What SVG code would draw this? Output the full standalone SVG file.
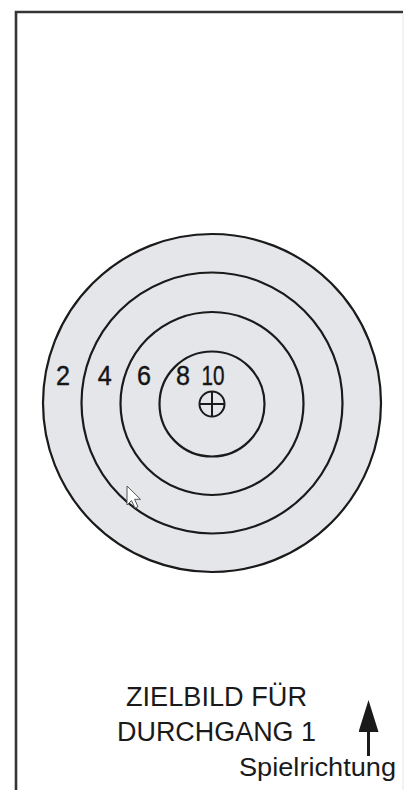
<svg xmlns="http://www.w3.org/2000/svg" width="405" height="790" viewBox="0 0 405 790">
  <style>
    .ring { fill: #e4e6e9; stroke: #1a1a1a; stroke-width: 2.2; }
    .num { font-family: "Liberation Sans", Arial, sans-serif; font-size: 28px; fill: #151515; text-anchor: middle; stroke: #151515; stroke-width: 0.4; }
    .cap { font-family: "Liberation Sans", Arial, sans-serif; font-size: 27px; fill: #1a1a1a; text-anchor: middle; }
    .small { font-family: "Liberation Sans", Arial, sans-serif; font-size: 26px; fill: #1a1a1a; text-anchor: middle; }
  </style>
  <defs>
    <marker id="arrowHead" markerWidth="32" markerHeight="20" refX="0" refY="10" orient="auto" markerUnits="userSpaceOnUse" viewBox="0 0 32 20">
      <path d="M0,0 L32,10 L0,20 Z" fill="#1a1a1a"/>
    </marker>
  </defs>
  <rect width="405" height="790" fill="#ffffff"/>
  <g id="frame">
    <path d="M16,800 L16,12 L403,12" fill="none" stroke="#353535" stroke-width="2.6"/>
    <line x1="403" y1="13" x2="403" y2="800" stroke="#e6e6e6" stroke-width="1"/>
  </g>
  <g id="target">
    <circle class="ring" cx="212" cy="403" r="169"/>
    <circle class="ring" cx="212" cy="403" r="130.5"/>
    <circle class="ring" cx="212" cy="403.5" r="91.5"/>
    <circle class="ring" cx="212" cy="404" r="52.5"/>
    <g id="crosshair" fill="none" stroke="#1a1a1a" stroke-width="2">
      <circle cx="212" cy="404" r="12.5"/>
      <line x1="199.5" y1="404" x2="224.5" y2="404"/>
      <line x1="212" y1="391.5" x2="212" y2="416.5"/>
    </g>
  </g>
  <g id="labels">
    <text class="num" x="63" y="384.5" textLength="14" lengthAdjust="spacingAndGlyphs">2</text>
    <text class="num" x="104.7" y="384.5" textLength="14" lengthAdjust="spacingAndGlyphs">4</text>
    <text class="num" x="144" y="384.5" textLength="14" lengthAdjust="spacingAndGlyphs">6</text>
    <text class="num" x="183" y="384.5" textLength="14" lengthAdjust="spacingAndGlyphs">8</text>
    <text class="num" x="213" y="384.5" textLength="23" lengthAdjust="spacingAndGlyphs">10</text>
  </g>
  <g id="cursor">
    <path d="M127,486 L127,505 L131.5,500.5 L135,508 L138,506.8 L134.6,499.3 L140.5,499.3 Z" fill="#ffffff" stroke="#555" stroke-width="1" stroke-linejoin="round"/>
  </g>
  <g id="title">
    <text class="cap" x="216.5" y="706" textLength="181" lengthAdjust="spacingAndGlyphs">ZIELBILD FÜR</text>
    <text class="cap" x="216.5" y="741" textLength="199" lengthAdjust="spacingAndGlyphs">DURCHGANG 1</text>
  </g>
  <g id="connectors">
    <line x1="368.5" y1="756" x2="368.5" y2="732" stroke="#1a1a1a" stroke-width="3" marker-end="url(#arrowHead)"/>
  </g>
  <g id="direction">
    <text class="small" x="317.5" y="776" textLength="157" lengthAdjust="spacingAndGlyphs">Spielrichtung</text>
  </g>
</svg>
